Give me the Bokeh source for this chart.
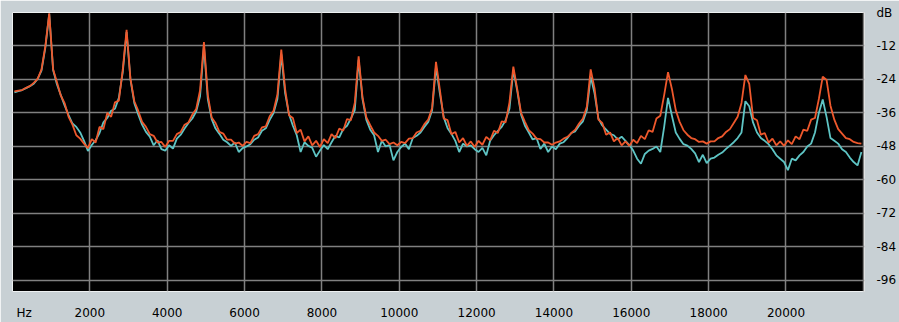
from bokeh.plotting import figure
from bokeh.models import FixedTicker, Range1d, ColumnDataSource
from bokeh.embed import file_html
from bokeh.resources import INLINE

# Spectrum bins: 100 Hz wide, centres at 50, 150, ... 21950 Hz
BIN_HZ = 100
freq_hz = [50 + BIN_HZ * i for i in range(220)]

# Orange series (dB), one row per kHz band
orange_db = [
    -28.3, -28.0, -27.8, -27.0, -26.4, -25.2, -23.8, -20.4, -12.0, -0.3,
    -20.3, -25.0, -29.8, -32.6, -37.4, -40.2, -44.0, -45.2, -47.0, -48.6,
    -45.4, -46.6, -41.0, -41.8, -36.0, -37.4, -32.2, -31.6, -20.6, -6.2,
    -23.8, -31.8, -35.2, -39.2, -41.0, -43.6, -44.2, -46.6, -46.4, -48.2,
    -46.0, -46.0, -43.6, -42.8, -40.2, -39.4, -36.6, -34.6, -27.8, -10.6,
    -29.6, -37.6, -39.6, -42.8, -43.4, -45.6, -45.6, -47.0, -46.6, -47.8,
    -46.4, -46.8, -44.2, -43.6, -41.2, -40.8, -37.2, -35.2, -29.4, -13.3,
    -27.6, -36.8, -37.8, -43.2, -42.0, -46.2, -44.4, -47.6, -46.0, -48.2,
    -45.4, -46.8, -43.6, -45.0, -41.6, -42.4, -38.2, -38.6, -32.4, -15.7,
    -30.4, -37.6, -40.4, -43.0, -44.2, -46.0, -45.6, -47.2, -46.6, -47.6,
    -46.4, -46.8, -45.2, -45.0, -43.0, -42.4, -40.0, -38.4, -34.2, -17.7,
    -27.6, -38.0, -38.6, -43.6, -42.8, -46.6, -45.0, -47.8, -46.2, -48.2,
    -46.0, -47.4, -44.6, -45.8, -42.4, -43.2, -39.0, -39.4, -32.2, -19.4,
    -27.4, -36.0, -39.2, -42.2, -43.4, -45.2, -45.4, -46.6, -46.6, -47.4,
    -46.6, -46.2, -45.2, -44.6, -43.2, -42.0, -39.8, -38.0, -33.8, -20.4,
    -27.2, -38.4, -39.6, -43.8, -43.0, -46.2, -45.0, -47.6, -46.2, -47.8,
    -45.6, -46.8, -44.2, -45.4, -42.2, -42.8, -38.0, -37.0, -29.6, -21.4,
    -27.4, -35.0, -39.2, -42.2, -43.8, -45.0, -45.4, -46.4, -46.2, -47.0,
    -46.2, -46.2, -45.0, -44.4, -42.8, -41.8, -39.6, -37.4, -32.4, -22.4,
    -25.6, -37.8, -38.6, -43.8, -43.2, -46.6, -45.2, -47.6, -46.2, -47.8,
    -45.8, -47.2, -44.4, -45.4, -42.0, -42.4, -38.4, -37.8, -31.0, -23.0,
    -24.2, -33.4, -38.4, -41.8, -43.4, -45.0, -45.4, -46.4, -46.8, -47.0,
]

# Cyan series (dB), one row per kHz band
cyan_db = [
    -28.6, -28.2, -27.8, -27.1, -26.4, -25.5, -23.8, -20.8, -12.5, -0.5,
    -20.6, -25.8, -29.6, -33.4, -36.8, -39.8, -41.0, -43.0, -46.0, -49.6,
    -47.5, -45.8, -43.2, -39.4, -37.8, -35.2, -34.5, -30.6, -21.5, -7.0,
    -24.0, -32.5, -36.5, -40.2, -42.8, -44.5, -47.6, -45.8, -49.0, -49.5,
    -47.6, -48.8, -45.2, -43.8, -41.6, -39.6, -38.0, -35.5, -30.0, -12.0,
    -31.0, -38.2, -41.6, -43.5, -45.6, -46.5, -47.8, -46.6, -50.0, -48.6,
    -48.0, -47.2, -45.6, -44.8, -42.4, -41.5, -38.5, -36.0, -31.0, -15.0,
    -29.0, -36.5, -40.6, -44.0, -50.0, -46.5, -47.8, -48.5, -51.7, -49.5,
    -47.5, -49.0, -46.5, -44.2, -44.8, -41.8, -40.6, -38.0, -35.0, -17.0,
    -31.0, -38.5, -42.0, -44.0, -50.0, -46.0, -48.0, -47.5, -53.0, -50.0,
    -48.2, -47.0, -49.0, -45.0, -44.2, -43.0, -41.0, -39.2, -35.0, -19.5,
    -29.0, -37.5, -41.5, -43.5, -46.0, -50.0, -47.0, -48.0, -47.6, -49.0,
    -50.0, -48.5, -51.2, -46.0, -44.0, -42.4, -41.0, -38.6, -34.5, -20.6,
    -28.0, -36.6, -40.6, -43.0, -45.5, -45.0, -48.9, -47.0, -50.0, -48.0,
    -49.0, -47.0, -46.5, -45.0, -43.2, -42.6, -40.6, -39.0, -35.0, -23.0,
    -29.0, -38.0, -40.5, -42.0, -43.5, -44.0, -45.5, -44.5, -46.0, -47.5,
    -49.5, -52.4, -54.2, -50.7, -49.5, -48.9, -48.0, -50.0, -41.0, -30.6,
    -37.0, -43.0, -45.3, -47.2, -47.7, -48.9, -50.5, -53.6, -51.0, -54.0,
    -52.4, -52.0, -51.0, -50.2, -48.9, -47.7, -46.5, -45.0, -43.0, -31.8,
    -33.6, -39.5, -43.0, -45.0, -46.0, -47.2, -49.0, -51.2, -52.4, -53.6,
    -56.5, -52.4, -53.0, -51.2, -50.0, -48.0, -47.0, -43.0, -36.0, -31.2,
    -37.5, -45.0, -46.0, -47.0, -49.0, -50.0, -52.0, -53.6, -54.8, -50.0,
]

x_ticks = [300, 2000, 4000, 6000, 8000, 10000, 12000, 14000, 16000, 18000, 20000]
x_tick_labels = ["Hz", "2000", "4000", "6000", "8000", "10000", "12000",
                 "14000", "16000", "18000", "20000"]
x_grid_ticks = [2000, 4000, 6000, 8000, 10000, 12000, 14000, 16000, 18000, 20000, 22000]
y_ticks = [0, -12, -24, -36, -48, -60, -72, -84, -96]
y_tick_labels = ["dB", "-12", "-24", "-36", "-48", "-60", "-72", "-84", "-96"]

PANEL = "#C8D0D4"
ORANGE = "#EE582C"
CYAN = "#5EC4C4"
GRID = "#808080"

p = figure(width=899, height=322, x_range=Range1d(0, 22030), y_range=Range1d(-100, 0),
           output_backend="svg", toolbar_location=None, y_axis_location="right",
           min_border_left=12, min_border_top=12, min_border_right=32, min_border_bottom=26)
p.background_fill_color = "black"
p.border_fill_color = PANEL
p.outline_line_color = "#EEF1F2"
p.outline_line_width = 1

for ax in (p.xaxis[0], p.yaxis[0]):
    ax.axis_line_color = None
    ax.major_tick_line_color = None
    ax.minor_tick_line_color = None
    ax.major_label_text_font = "DejaVu Sans"
    ax.major_label_text_font_size = "12px"
    ax.major_label_text_color = "black"

p.xaxis[0].ticker = FixedTicker(ticks=x_ticks)
p.xaxis[0].major_label_overrides = dict(zip(x_ticks, x_tick_labels))
p.xaxis[0].major_label_standoff = 8
p.yaxis[0].ticker = FixedTicker(ticks=y_ticks)
p.yaxis[0].major_label_overrides = dict(zip(y_ticks, y_tick_labels))
p.yaxis[0].major_label_standoff = 6

p.xgrid[0].ticker = FixedTicker(ticks=x_grid_ticks)
p.ygrid[0].ticker = FixedTicker(ticks=y_ticks[1:])
for g in (p.xgrid[0], p.ygrid[0]):
    g.grid_line_color = GRID
    g.grid_line_width = 1.5

src = ColumnDataSource(dict(f=freq_hz, orange=orange_db, cyan=cyan_db))
p.line("f", "cyan", source=src, line_color=CYAN, line_width=1.8)
p.line("f", "orange", source=src, line_color=ORANGE, line_width=1.8)

open("out.html", "w").write(file_html(p, INLINE))
